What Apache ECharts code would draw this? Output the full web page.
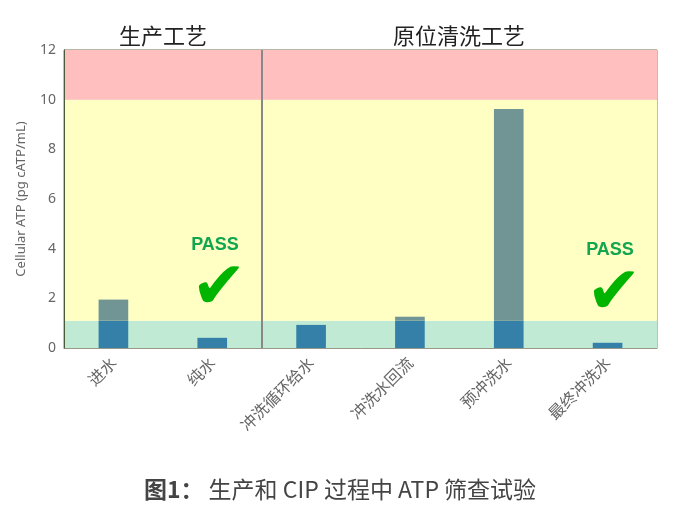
<!DOCTYPE html>
<html>
<head>
<meta charset="utf-8">
<script src="https://cdn.jsdelivr.net/npm/echarts@6/dist/echarts.min.js"></script>
<style>
  html, body { margin: 0; padding: 0; background: #fff; }
  #main { width: 680px; height: 520px; }
</style>
</head>
<body>
<div id="main"></div>
<script>
// 数据
var categories = ['进水', '纯水', '冲洗循环给水', '冲洗水回流', '预冲洗水', '最终冲洗水'];
var atpValues = [1.95, 0.41, 0.93, 1.26, 9.62, 0.21];
var greenLimit = 1.1;   // 绿色区上限
var redLimit = 10;      // 红色区下限
var groupSplit = 2;     // 生产工艺 / 原位清洗工艺 分界（类目个数）

var lowPart = atpValues.map(function (v) { return Math.min(v, greenLimit); });
var highPart = atpValues.map(function (v) { return Math.max(v - greenLimit, 0); });

var myChart = echarts.init(document.getElementById('main'));
var font = '"Noto Sans CJK SC", "Noto Sans", sans-serif';

var option = {
  backgroundColor: '#fff',
  animation: false,
  textStyle: { fontFamily: font },
  title: {
    text: '{b|图1：} 生产和 CIP 过程中 ATP 筛查试验',
    left: 'center',
    top: 473,
    textStyle: {
      fontSize: 23,
      fontWeight: 'normal',
      color: '#444',
      fontFamily: font,
      rich: { b: { fontSize: 23, fontWeight: 'bold', color: '#444', fontFamily: font } }
    }
  },
  grid: {
    left: 64, right: 23, top: 50, bottom: 172,
    show: true, borderColor: '#7f7f7f', borderWidth: 1
  },
  xAxis: [
    {
      type: 'category',
      data: categories,
      axisTick: { show: false },
      axisLine: { lineStyle: { color: '#999' } },
      axisLabel: { rotate: 45, color: '#666', fontSize: 16, margin: 12 }
    },
    {
      type: 'value',
      min: 0, max: categories.length,
      show: false
    }
  ],
  yAxis: {
    type: 'value',
    min: 0, max: 12, interval: 2,
    z: 1,
    name: 'Cellular ATP (pg cATP/mL)',
    nameLocation: 'middle',
    nameGap: 36,
    nameTextStyle: { color: '#666', fontSize: 13, fontFamily: 'Noto Sans' },
    axisLine: { show: true, lineStyle: { color: '#4a5a3a' } },
    axisTick: { show: false },
    axisLabel: { color: '#666', fontSize: 14, fontFamily: 'Noto Sans' },
    splitLine: { lineStyle: { color: 'rgba(160,150,60,0.22)', width: 1.5 } }
  },
  series: [
    {
      // 背景色带 + 分界线
      type: 'line',
      xAxisIndex: 1,
      data: [],
      z: 0,
      silent: true,
      markArea: {
        silent: true,
        data: [
          [{ yAxis: 0, itemStyle: { color: '#c0ead3' } }, { yAxis: greenLimit }],
          [{ yAxis: greenLimit, itemStyle: { color: '#ffffc3' } }, { yAxis: redLimit }],
          [{ yAxis: redLimit, itemStyle: { color: '#ffbfbf' } }, { yAxis: 12 }]
        ]
      },
      markLine: {
        silent: true,
        symbol: 'none',
        label: { show: false },
        lineStyle: { color: '#888', width: 2, type: 'solid' },
        data: [{ xAxis: groupSplit }]
      }
    },
    {
      name: 'low',
      type: 'bar',
      stack: 'atp',
      z: 3,
      barWidth: '30%',
      data: lowPart,
      itemStyle: { color: '#3580a9' }
    },
    {
      name: 'high',
      type: 'bar',
      stack: 'atp',
      z: 3,
      barWidth: '30%',
      data: highPart,
      itemStyle: { color: '#719595' }
    }
  ],
  graphic: [
    { type: 'text', x: 163, y: 36, style: { text: '生产工艺', fontSize: 22, fill: '#222', fontFamily: font, align: 'center', verticalAlign: 'middle' } },
    { type: 'text', x: 459, y: 36, style: { text: '原位清洗工艺', fontSize: 22, fill: '#222', fontFamily: font, align: 'center', verticalAlign: 'middle' } },
    { type: 'text', x: 215, y: 245, z: 10, style: { text: 'PASS', fontSize: 18, fontWeight: 'bold', fill: '#12a650', fontFamily: 'Liberation Sans', align: 'center', verticalAlign: 'middle' } },
    { type: 'text', x: 219, y: 291, z: 10, style: { text: '✔', fontSize: 66, fill: '#00b400', fontFamily: 'DejaVu Sans', align: 'center', verticalAlign: 'middle' } },
    { type: 'text', x: 610, y: 250, z: 10, style: { text: 'PASS', fontSize: 18, fontWeight: 'bold', fill: '#12a650', fontFamily: 'Liberation Sans', align: 'center', verticalAlign: 'middle' } },
    { type: 'text', x: 614, y: 296, z: 10, style: { text: '✔', fontSize: 66, fill: '#00b400', fontFamily: 'DejaVu Sans', align: 'center', verticalAlign: 'middle' } }
  ]
};

myChart.setOption(option);
</script>
</body>
</html>
